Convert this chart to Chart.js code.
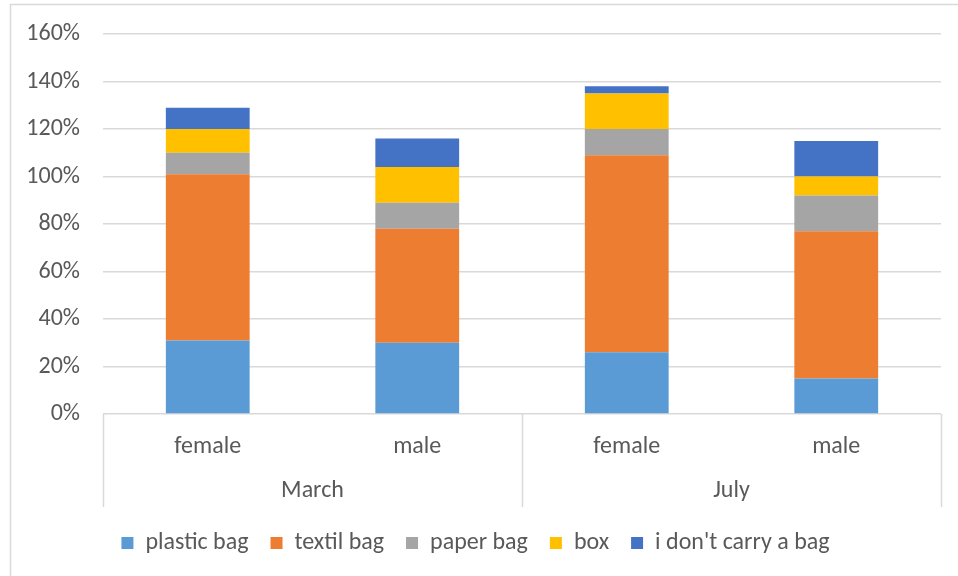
<!DOCTYPE html>
<html>
<head>
<meta charset="utf-8">
<script src="https://cdn.jsdelivr.net/npm/chart.js@4"></script>
<style>
  html, body { margin: 0; padding: 0; background: #fff; }
  #wrap { width: 958px; height: 576px; position: relative; }
</style>
</head>
<body>
<div id="wrap"><canvas id="bagChart" width="958" height="576"></canvas></div>
<script>
// categories: gender inside each survey month
const genders = ['female', 'male', 'female', 'male'];
const months = ['March', 'July'];

// share of answers per bag type, in percent
const plasticBag = [31, 30, 26, 15];
const textilBag = [70, 48, 83, 62];
const paperBag = [9, 11, 11, 15];
const box = [10, 15, 15, 8];
const noBag = [9, 12, 3, 15];

const yTicks = [0, 20, 40, 60, 80, 100, 120, 140, 160];

const FONT = 'Carlito, Calibri, Lato, sans-serif';
const SIZE = 24;
const TEXT = '#595959';
const LINE = '#d9d9d9';

// draws the outer frame, month group labels and their separator lines
const groupAxis = {
    id: 'groupAxis',
    beforeDraw(chart) {
        const ctx = chart.ctx;
        ctx.save();
        ctx.strokeStyle = LINE;
        ctx.lineWidth = 1.5;
        ctx.strokeRect(10.5, 4.5, 1000, 700);
        ctx.restore();
    },
    afterDraw(chart) {
        const ctx = chart.ctx;
        const x = chart.scales.x;
        const area = chart.chartArea;
        const perGroup = genders.length / months.length;
        const catW = (x.right - x.left) / genders.length;
        ctx.save();
        ctx.strokeStyle = LINE;
        ctx.lineWidth = 1.5;
        ctx.beginPath();
        for (let i = 0; i <= months.length; i++) {
            const px = Math.round(x.left + i * perGroup * catW) + 0.5;
            ctx.moveTo(px, area.bottom);
            ctx.lineTo(px, area.bottom + 93);
        }
        ctx.stroke();
        ctx.fillStyle = TEXT;
        ctx.font = SIZE + 'px ' + FONT;
        ctx.textAlign = 'center';
        ctx.textBaseline = 'middle';
        months.forEach((m, i) => {
            const cx = x.left + (i + 0.5) * perGroup * catW;
            ctx.fillText(m, cx, area.bottom + 77);
        });
        ctx.restore();
    }
};

new Chart(document.getElementById('bagChart'), {
    type: 'bar',
    data: {
        labels: genders,
        datasets: [
            { label: 'plastic bag', data: plasticBag, backgroundColor: '#5b9bd5' },
            { label: 'textil bag', data: textilBag, backgroundColor: '#ed7d31' },
            { label: 'paper bag', data: paperBag, backgroundColor: '#a5a5a5' },
            { label: 'box', data: box, backgroundColor: '#ffc000' },
            { label: "i don't carry a bag", data: noBag, backgroundColor: '#4472c4' }
        ]
    },
    options: {
        responsive: false,
        animation: false,
        layout: { padding: { left: 10, top: 34, right: 17, bottom: 11 } },
        datasets: {
            bar: { barPercentage: 0.4, categoryPercentage: 1 }
        },
        scales: {
            x: {
                stacked: true,
                grid: { display: false },
                border: { display: false },
                ticks: {
                    color: TEXT,
                    font: { family: FONT, size: SIZE },
                    padding: 11
                },
                afterFit(scale) { scale.height = 95; }
            },
            y: {
                stacked: true,
                min: 0,
                max: 160,
                afterBuildTicks(scale) {
                    scale.ticks = yTicks.map(v => ({ value: v }));
                },
                afterFit(scale) {
                    scale.width = 93;
                    scale.paddingTop = 0;
                    scale.paddingBottom = 0;
                },
                grid: { color: LINE, lineWidth: 1.5, drawTicks: false },
                border: { display: false },
                ticks: {
                    color: TEXT,
                    font: { family: FONT, size: SIZE },
                    padding: 23,
                    callback: v => v + '%'
                }
            }
        },
        plugins: {
            legend: {
                position: 'bottom',
                labels: {
                    color: TEXT,
                    font: { family: FONT, size: SIZE },
                    boxWidth: 12,
                    boxHeight: 12,
                    padding: 22
                }
            },
            tooltip: { enabled: false }
        }
    },
    plugins: [groupAxis]
});
</script>
</body>
</html>
